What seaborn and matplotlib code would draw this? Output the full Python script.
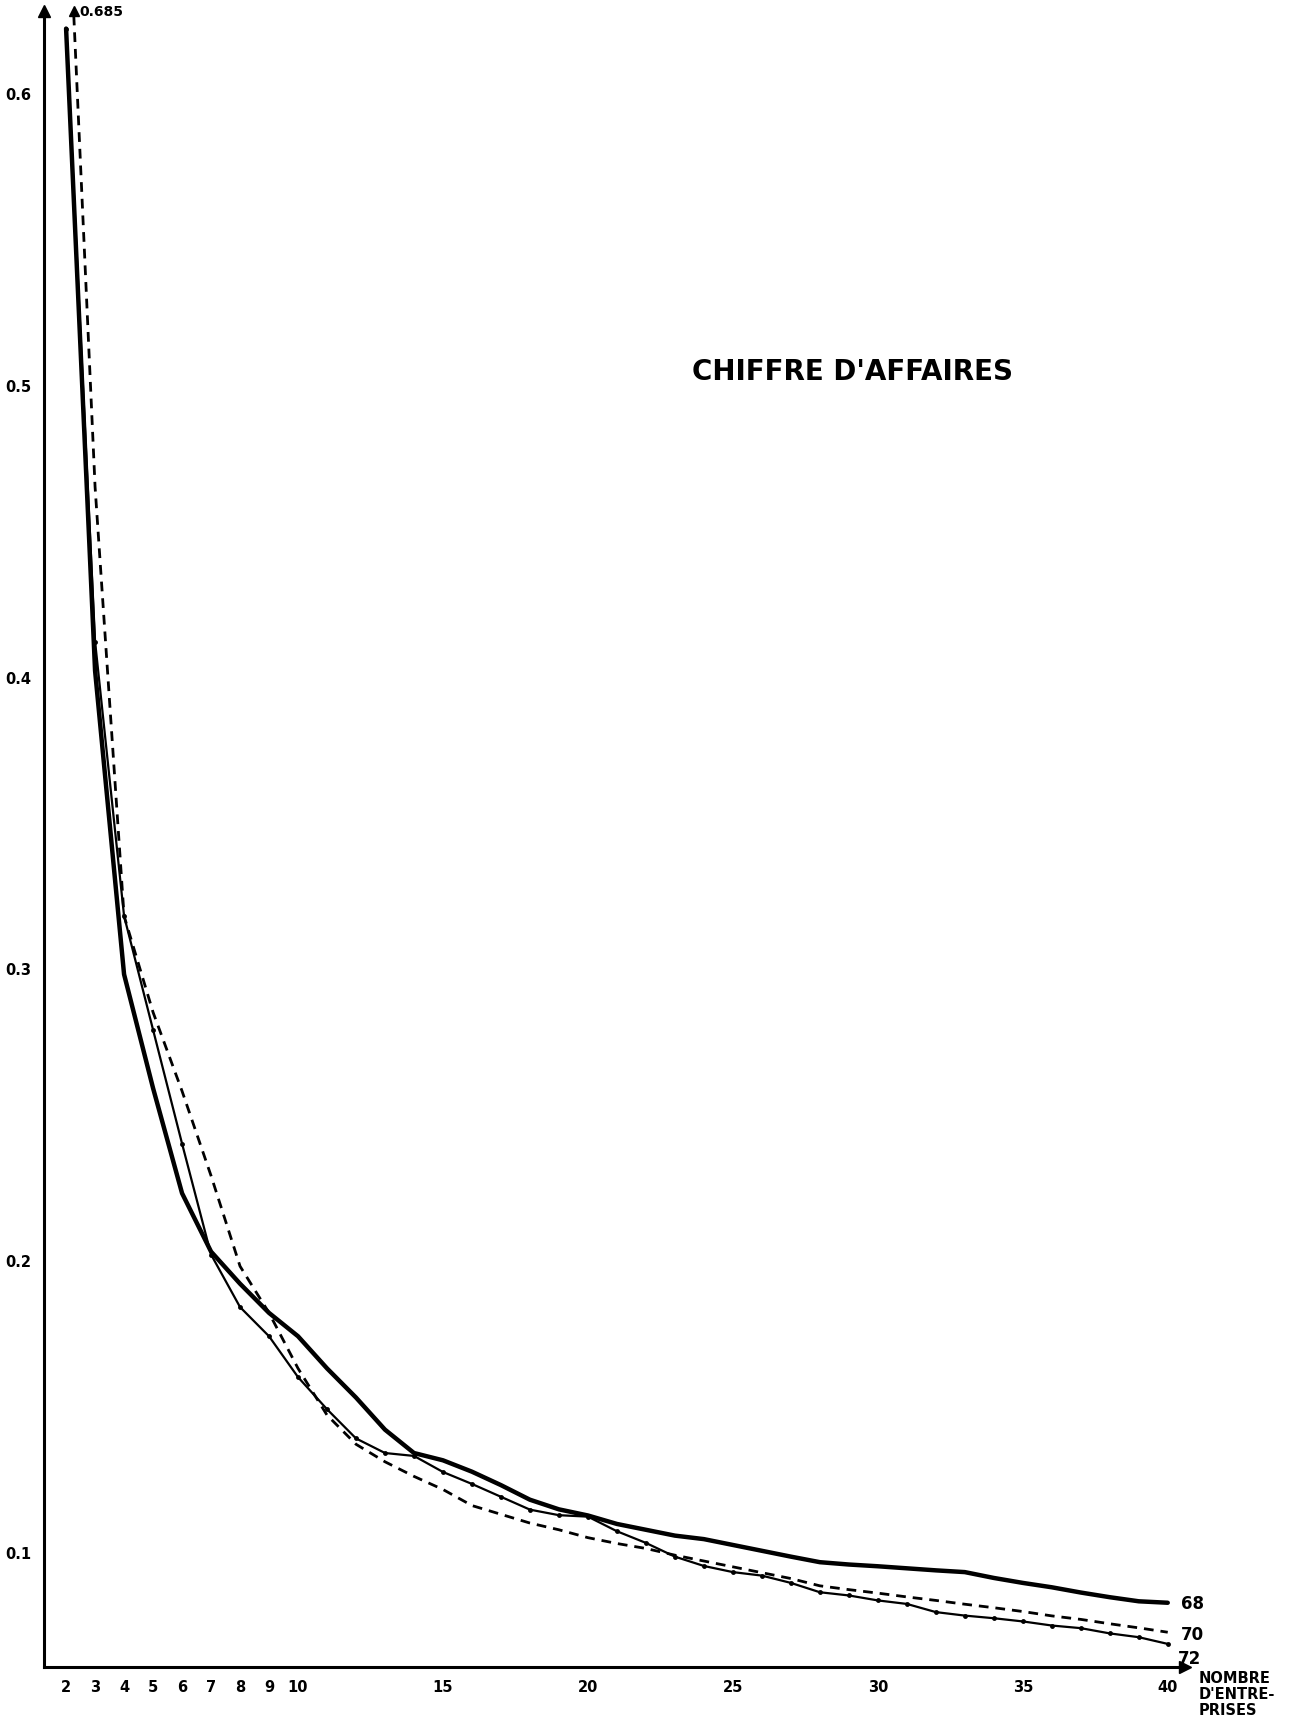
import matplotlib
matplotlib.use("Agg")
import matplotlib.pyplot as plt
import seaborn as sns
import numpy as np
import pandas as pd

# nombre d'entreprises (abscisse)
nombre = list(range(2, 41))

# trait épais, fin de courbe "68"
serie_68 = [0.622, 0.402, 0.298, 0.259, 0.223, 0.203, 0.192, 0.182, 0.174, 0.163,
            0.153, 0.142, 0.134, 0.1315, 0.1276, 0.123, 0.118, 0.1147, 0.1126, 0.1097,
            0.1077, 0.1057, 0.1045, 0.1025, 0.1005, 0.0985, 0.0966, 0.0958, 0.0952, 0.0945,
            0.0938, 0.0932, 0.0912, 0.0895, 0.088, 0.0862, 0.0846, 0.0832, 0.0827]

# tirets, fin de courbe "70"
serie_70 = [0.685, 0.465, 0.318, 0.285, 0.258, 0.229, 0.198, 0.182, 0.163, 0.147,
            0.137, 0.131, 0.126, 0.1215, 0.116, 0.113, 0.110, 0.1077, 0.105, 0.103,
            0.1013, 0.099, 0.097, 0.095, 0.093, 0.091, 0.0885, 0.0872, 0.086, 0.0847,
            0.0835, 0.0822, 0.081, 0.0797, 0.0782, 0.077, 0.0755, 0.0741, 0.0726]

# trait fin avec points, fin de courbe "72"
serie_72 = [0.622, 0.412, 0.318, 0.279, 0.240, 0.202, 0.184, 0.174, 0.160, 0.149,
            0.139, 0.134, 0.133, 0.1275, 0.1234, 0.119, 0.1146, 0.1127, 0.1122, 0.1072,
            0.1032, 0.0985, 0.0953, 0.0932, 0.092, 0.0895, 0.0863, 0.0852, 0.0835, 0.0823,
            0.0795, 0.0783, 0.0774, 0.0763, 0.0749, 0.0740, 0.0722, 0.0709, 0.0686]

x_labels = {2: "2", 3: "3", 4: "4", 5: "5", 6: "6", 7: "7", 8: "8", 9: "9", 10: "10",
            15: "15", 20: "20", 25: "25", 30: "30", 35: "35", 40: "40"}
y_ticks = [0.1, 0.2, 0.3, 0.4, 0.5, 0.6]

df = pd.DataFrame({"n": nombre, "68": serie_68, "70": serie_70, "72": serie_72})

sns.set_style("white")
plt.rcParams["font.family"] = ["DejaVu Sans"]
plt.rcParams["text.color"] = "black"
plt.rcParams["xtick.color"] = "black"
plt.rcParams["ytick.color"] = "black"

fig = plt.figure(figsize=(13.11, 17.24), dpi=100)
ax = fig.add_axes([0.0336, 0.0325, 0.904 - 0.0336, 0.993 - 0.0325])

sns.lineplot(data=df, x="n", y="68", ax=ax, color="black", linewidth=3.2)
sns.lineplot(data=df, x="n", y="70", ax=ax, color="black", linewidth=2.0,
             linestyle=(0, (3.5, 2.5)))
sns.lineplot(data=df, x="n", y="72", ax=ax, color="black", linewidth=1.6,
             marker="o", markersize=3.5, markeredgewidth=0)

ax.set_xlim(1.24, 40.6)
ax.set_ylim(0.0607, 0.628)

for side in ["top", "right"]:
    ax.spines[side].set_visible(False)
for side in ["left", "bottom"]:
    ax.spines[side].set_linewidth(2.2)
    ax.spines[side].set_color("black")

# flèches au bout des axes
ax.plot([0], [1], marker="^", markersize=9, color="black",
        transform=ax.transAxes, clip_on=False)
ax.plot([1], [0], marker=">", markersize=9, color="black",
        transform=ax.transAxes, clip_on=False)

ax.set_xticks(nombre)
ax.set_xticklabels([x_labels.get(n, "") for n in nombre])
ax.set_yticks(y_ticks)
ax.set_yticklabels([f"{t:.1f}" for t in y_ticks])
ax.tick_params(axis="both", direction="out", length=5, width=1.6, color="black",
               labelsize=10.5, pad=4)
for lab in ax.get_xticklabels() + ax.get_yticklabels():
    lab.set_fontweight("bold")
ax.set_xlabel("")
ax.set_ylabel("")

# valeur hors échelle de la courbe en tirets
top = ax.get_ylim()[1]
x_top = np.interp(top, serie_70[:2][::-1], nombre[:2][::-1])
ax.plot([x_top], [top], marker="^", markersize=7, color="black", clip_on=False)
ax.text(x_top + 0.2, top, "0.685", fontsize=10, fontweight="bold", va="center", ha="left")

# étiquettes de fin de courbes
ax.text(40.45, serie_68[-1], "68", fontsize=12, fontweight="bold", va="center", ha="left")
ax.text(40.45, serie_70[-1] - 0.0005, "70", fontsize=12, fontweight="bold", va="center", ha="left")
ax.text(40.35, 0.0638, "72", fontsize=12, fontweight="bold", va="center", ha="left")

fig.text(0.65, 0.784, "CHIFFRE D'AFFAIRES", fontsize=20, fontweight="bold",
         ha="center", va="center")
fig.text(0.914, 0.0305, "NOMBRE\nD'ENTRE-\nPRISES", fontsize=10.5, fontweight="bold",
         ha="left", va="top", linespacing=1.05)

fig.savefig("out.png", dpi=100)
